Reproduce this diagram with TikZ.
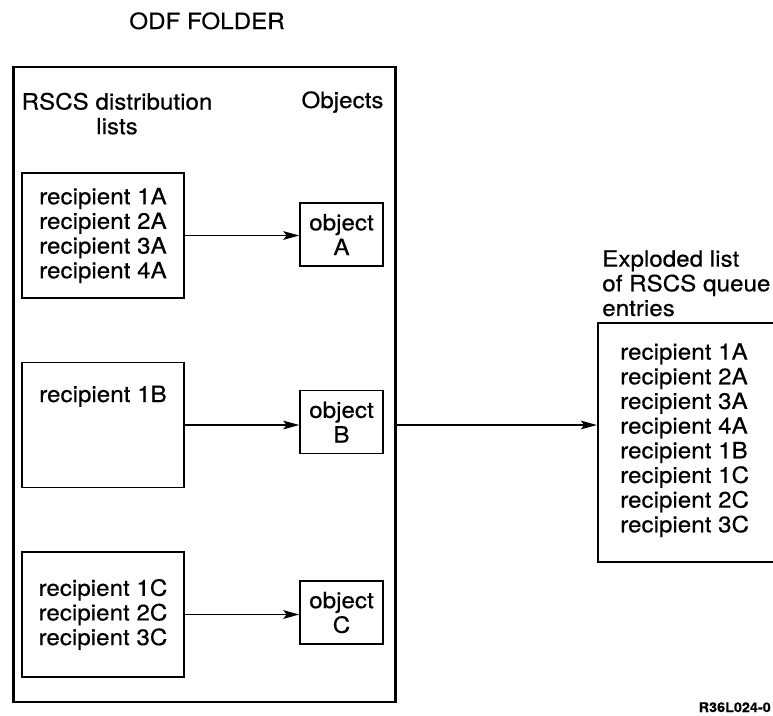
\documentclass[tikz,border=0pt]{standalone}
\usepackage{fontspec}
\setmainfont{TeX Gyre Heros}[FakeStretch=1.08,FakeBold=0.4]
\usetikzlibrary{arrows.meta}
\begin{document}
\begin{tikzpicture}[x=0.75pt,y=-0.75pt,
  every node/.style={font=\fontsize{16.8pt}{18.5pt}\selectfont, inner sep=0pt},
  listbox/.style={draw, line width=1.1pt, minimum width=121.5pt, minimum height=93.75pt, align=center},
  objbox/.style={draw, line width=1.1pt, minimum width=62.25pt, minimum height=47.25pt, align=center},
  arr/.style={line width=1.1pt, -{Stealth[length=12pt,width=6.5pt,inset=2.5pt]}}]
\useasboundingbox (0,0) rectangle (773,715);
% folder
\node[draw, line width=1.7pt, minimum width=286.5pt, minimum height=476.25pt] (folder) at (204.5,384.5) {};
\node[anchor=base] (title) at (207,29) {ODF FOLDER};
\node[anchor=north, align=center] (lhead) at (117,92.5) {RSCS distribution\\lists};
\node[anchor=base] (ohead) at (342.5,108) {Objects};
% lists
\node[listbox] (listA) at (103,235.5) {recipient 1A\\recipient 2A\\recipient 3A\\recipient 4A};
\node[listbox] (listB) at (103,425) {};
\node[anchor=base] (textB) at (103,402) {recipient 1B};
\node[listbox] (listC) at (103,614.5) {recipient 1C\\recipient 2C\\recipient 3C};
% objects
\node[objbox] (objA) at (341.5,234.5) {object\\A};
\node[objbox] (objB) at (341.5,422) {object\\B};
\node[objbox] (objC) at (341.5,612.5) {object\\C};
% arrows
\draw[arr] (listA.east) -- (listA.east -| objA.west);
\draw[arr] (listB.east) -- (listB.east -| objB.west);
\draw[arr] (listC.east) -- (listC.east -| objC.west);
% exploded list
\node[draw, line width=1.7pt, minimum width=144pt, minimum height=179.25pt] (expl) at (694,442.5) {};
\node[anchor=north west, align=left] (expltitle) at (602,250) {Exploded list\\of RSCS queue\\entries};
\node[anchor=north west, align=left] (expltext) at (620,343) {recipient 1A\\recipient 2A\\recipient 3A\\recipient 4A\\recipient 1B\\recipient 1C\\recipient 2C\\recipient 3C};
\draw[arr] (listB.east -| folder.east) -- (listB.east -| expl.west);
\node[anchor=base east, font=\bfseries\fontsize{10pt}{12pt}\selectfont] (ref) at (771,712) {R36L024-0};
\end{tikzpicture}
\end{document}
